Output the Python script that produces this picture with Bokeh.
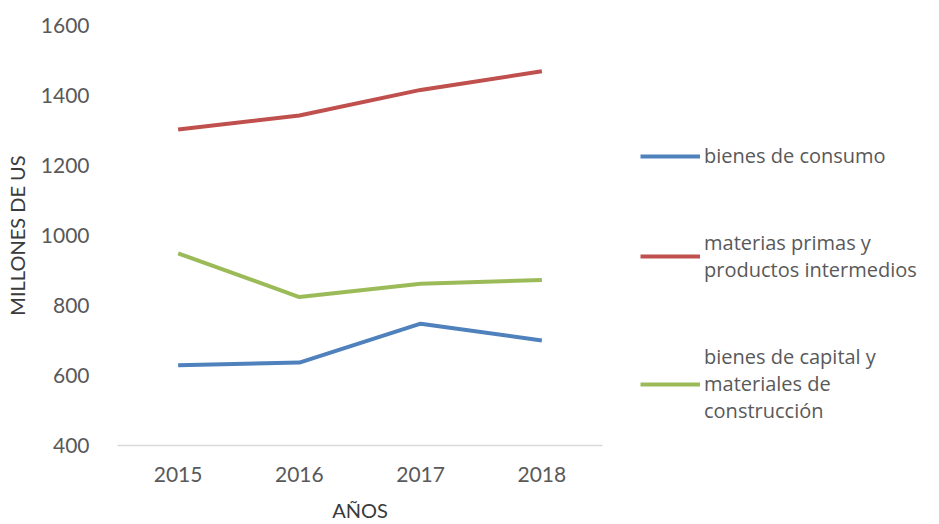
from bokeh.plotting import figure
from bokeh.models import FactorRange, Range1d, Legend, LegendItem
from bokeh.embed import file_html
from bokeh.resources import INLINE

years = ["2015", "2016", "2017", "2018"]
consumo = [629, 637, 748, 700]
materias = [1303, 1343, 1416, 1469]
capital = [949, 824, 862, 873]

names = ["bienes de consumo",
         "materias primas y\nproductos intermedios",
         "bienes de capital y\nmateriales de\nconstrucción"]
colors = ["#4F81BD", "#C0504D", "#9BBB59"]

FONT = "Lato"

p = figure(frame_width=485, frame_height=420, x_range=FactorRange(*years), y_range=Range1d(400, 1600),
           output_backend="svg", toolbar_location=None,
           min_border_left=117, min_border_right=0, min_border_top=25, min_border_bottom=79)
p.outline_line_color = None
p.xgrid.visible = False
p.ygrid.visible = False

r1 = p.line(years, consumo, line_width=4, color=colors[0])
r2 = p.line(years, materias, line_width=4, color=colors[1])
r3 = p.line(years, capital, line_width=4, color=colors[2])

p.yaxis.ticker = [400, 600, 800, 1000, 1200, 1400, 1600]
p.yaxis.axis_line_color = None
p.yaxis.major_tick_line_color = None
p.yaxis.minor_tick_line_color = None
p.yaxis.major_label_standoff = 22
p.yaxis.axis_label = "MILLONES DE US"
p.yaxis.axis_label_standoff = 9

p.xaxis.axis_line_color = "#d9d9d9"
p.xaxis.axis_line_width = 1.5
p.xaxis.major_tick_line_color = None
p.xaxis.minor_tick_line_color = None
p.xaxis.major_label_standoff = 15
p.xaxis.axis_label = "AÑOS"
p.xaxis.axis_label_standoff = 13

for ax in (p.xaxis, p.yaxis):
    ax.major_label_text_font = FONT
    ax.major_label_text_font_size = "21px"
    ax.major_label_text_color = "#595959"
    ax.axis_label_text_font = FONT
    ax.axis_label_text_font_size = "20px"
    ax.axis_label_text_font_style = "normal"
    ax.axis_label_text_color = "#3a3a3a"

legend = Legend(items=[LegendItem(label=n, renderers=[r]) for n, r in zip(names, [r1, r2, r3])],
                location=(38, 21),
                glyph_width=60, glyph_height=26, label_standoff=4,
                label_text_font="Open Sans", label_text_font_size="20px",
                label_text_color="#595959",
                padding=0, margin=0, border_line_color=None,
                background_fill_alpha=0, spacing=60, label_height=26)
p.add_layout(legend, "right")

open("out.html", "w").write(file_html(p, INLINE))
